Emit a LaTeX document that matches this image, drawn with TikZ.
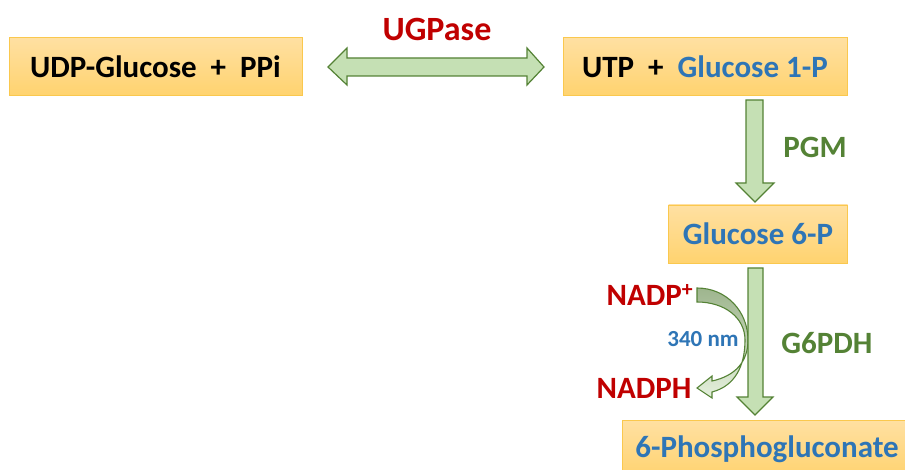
\documentclass[tikz,border=0pt]{standalone}
\usepackage{fontspec}
\setmainfont{Carlito}
\definecolor{ured}{HTML}{C00000}
\definecolor{ugreen}{HTML}{548235}
\definecolor{ublue}{HTML}{2E75B6}
\definecolor{afill}{HTML}{C5E0B4}
\definecolor{boxtop}{HTML}{FFE0A2}
\definecolor{boxbot}{HTML}{FFD36F}
\definecolor{boxline}{HTML}{FAC84E}
\definecolor{ctop}{HTML}{9EB58E}
\definecolor{cbot}{HTML}{E4F0DC}
\tikzset{
  box/.style={draw=boxline, line width=0.8pt, top color=boxtop, bottom color=boxbot,
    inner sep=0pt, minimum height=58pt, font=\fontsize{31}{36}\selectfont\bfseries},
  fat/.style={draw=ugreen, line width=1.2pt, fill=afill, line join=miter},
  lbl/.style={inner sep=0pt, font=\fontsize{31}{36}\selectfont\bfseries},
}
\begin{document}
\begin{tikzpicture}[x=1pt,y=-1pt]
\useasboundingbox (0,0) rectangle (905,470);
% boxes
\node[box, minimum width=293pt] (b1) at (155.5,66.5) {UDP-Glucose\ \ +\ \ PPi};
\node[box, minimum width=284pt] (b2) at (705,66.5) {UTP\ \ +\ \ \textcolor{ublue}{Glucose 1-P}};
\node[box, minimum width=179pt, text=ublue] (b3) at (758,234) {Glucose 6-P};
\node[box, minimum width=290pt, text=ublue] (b4) at (767,449) {6-Phosphogluconate};
% double arrow UGPase
\draw[fat] (328,67) -- (347,48) -- (347,58) -- (527,58) -- (527,48) -- (544,67)
  -- (527,85) -- (527,76) -- (347,76) -- (347,85) -- cycle;
\node[lbl, text=ured, font=\fontsize{34}{40}\selectfont\bfseries] (ug) at (437,29) {UGPase};
% PGM arrow
\draw[fat] (746,100) -- (763,100) -- (763,183) -- (774,183) -- (755,202)
  -- (736,183) -- (746,183) -- cycle;
\node[lbl, text=ugreen] (pgm) at (815,147) {PGM};
% curved arrow
\draw[draw=ugreen, line width=1.1pt, top color=ctop, bottom color=cbot, line join=miter]
  (697,288) .. controls (727,288) and (748,312) .. (748,340)
  .. controls (748,362) and (735,376) .. (712,381)
  -- (712,376) -- (697,388) -- (712,398) -- (712,392)
  .. controls (735,386) and (745,366) .. (745,340)
  .. controls (745,318) and (725,302) .. (697,302) -- cycle;
% G6PDH arrow
\draw[fat] (748,268) -- (763,268) -- (763,397) -- (773,397) -- (755,415)
  -- (737,397) -- (748,397) -- cycle;
\node[lbl, text=ugreen] (g6) at (827,343) {G6PDH};
\node[lbl, text=ured] (nadp) at (650,295) {NADP\textsuperscript{+}};
\node[lbl, text=ured] (nadph) at (644,388) {NADPH};
\node[inner sep=0pt, text=ublue, font=\fontsize{23}{27}\selectfont\bfseries] (nm) at (703,339) {340 nm};
\end{tikzpicture}
\end{document}
